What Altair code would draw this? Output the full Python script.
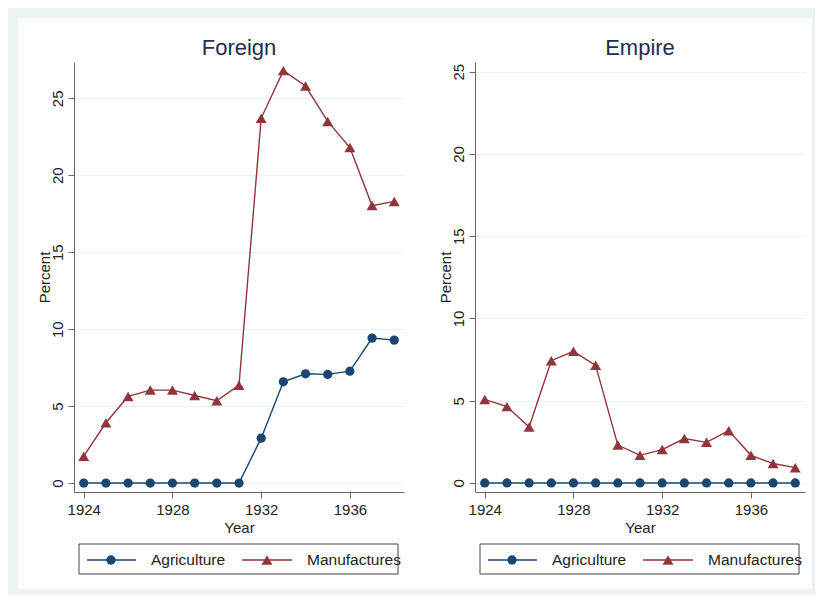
import altair as alt
import pandas as pd

# ---- data ----
years = [1924, 1925, 1926, 1927, 1928, 1929, 1930, 1931, 1932, 1933, 1934, 1935, 1936, 1937, 1938]
foreign_agri = [0, 0, 0, 0, 0, 0, 0, 0, 2.92, 6.58, 7.1, 7.06, 7.27, 9.42, 9.29]
foreign_manu = [1.75, 3.92, 5.63, 6.04, 6.04, 5.69, 5.35, 6.36, 23.7, 26.8, 25.8, 23.5, 21.8, 18.03, 18.3]
empire_agri = [0, 0, 0, 0, 0, 0, 0, 0, 0, 0, 0, 0, 0, 0, 0]
empire_manu = [5.08, 4.64, 3.4, 7.43, 8.0, 7.15, 2.3, 1.68, 2.03, 2.7, 2.47, 3.18, 1.68, 1.18, 0.93]

series_names = ["Agriculture", "Manufactures"]
series_colors = ["#1A476F", "#90353B"]
series_shapes = ["circle", "triangle-up"]
series_sizes = [86, 120]
x_ticks = [1924, 1928, 1932, 1936]
y_ticks = [0, 5, 10, 15, 20, 25]
panel_titles = ["Foreign", "Empire"]

FONT = "Liberation Sans"
BG = "#EAF2F3"
TXT = "#222222"
TITLE_COL = "#1E2D50"

W, H = 330, 430


def panel(title, agri, manu, ydom, frame=False):
    df = pd.DataFrame({
        "Year": years * 2,
        "Percent": agri + manu,
        "Series": [series_names[0]] * len(years) + [series_names[1]] * len(years),
    })
    base = alt.Chart(df)
    xenc = alt.X("Year:Q", title="Year",
                 scale=alt.Scale(domain=[1923.56, 1938.44], nice=False, zero=False),
                 axis=alt.Axis(values=x_ticks, format="d", grid=False, tickSize=6,
                               labelPadding=4, titlePadding=3, labelFlush=False))
    yenc = alt.Y("Percent:Q", title="Percent",
                 scale=alt.Scale(domain=ydom, nice=False, zero=False),
                 axis=alt.Axis(values=y_ticks, grid=True, gridColor=BG, gridWidth=1,
                               tickSize=6, labelAngle=-90, labelAlign="center",
                               labelBaseline="alphabetic", labelPadding=6,
                               titleAngle=-90, titleX=-25, titleY=H / 2,
                               titleAlign="center", titleBaseline="alphabetic"))
    layers = []
    one = alt.Chart(pd.DataFrame({"k": [0]}))

    if frame:
        # light bluish outer graph region (page coords relative to left plot origin)
        for (x1, x2, y1, y2) in [(-66, -56, -54, 533), (-66, 741, -54, -44),
                                 (738, 741, -54, 533), (-66, 741, 527, 533)]:
            layers.append(one.mark_rect(fill=BG, strokeWidth=0).encode(
                x=alt.value(x1), x2=alt.value(x2), y=alt.value(y1), y2=alt.value(y2)))

    for i, name in enumerate(series_names):
        sub = base.transform_filter(alt.datum.Series == name)
        layers.append(sub.mark_line(color=series_colors[i], strokeWidth=1.4).encode(x=xenc, y=yenc))
        layers.append(sub.mark_point(shape=series_shapes[i], size=series_sizes[i], filled=True,
                                     opacity=1, color=series_colors[i]).encode(x=xenc, y=yenc))

    # panel title
    layers.append(one.mark_text(align="center", baseline="alphabetic", font=FONT, fontSize=22,
                                color=TITLE_COL).encode(
        x=alt.value(W / 2), y=alt.value(-7), text=alt.value(title)))

    # legend box
    layers.append(one.mark_rect(fill="white", stroke="#444444", strokeWidth=1).encode(
        x=alt.value(5), x2=alt.value(324), y=alt.value(482), y2=alt.value(512)))
    leg_line_x = [(13, 62, 37, 77), (168, 218, 193, 233)]
    for i, name in enumerate(series_names):
        lx1, lx2, mx, tx = leg_line_x[i]
        layers.append(one.mark_rule(color=series_colors[i], strokeWidth=1.4).encode(
            x=alt.value(lx1), x2=alt.value(lx2), y=alt.value(498)))
        layers.append(one.mark_point(shape=series_shapes[i], size=series_sizes[i], filled=True,
                                     opacity=1, color=series_colors[i]).encode(
            x=alt.value(mx), y=alt.value(498)))
        layers.append(one.mark_text(align="left", baseline="middle", font=FONT, fontSize=15.5,
                                    color=TXT).encode(
            x=alt.value(tx), y=alt.value(498), text=alt.value(name)))

    return alt.layer(*layers).properties(width=W, height=H)


left = panel(panel_titles[0], foreign_agri, foreign_manu, [-0.58, 27.36], frame=True)
right = panel(panel_titles[1], empire_agri, empire_manu, [-0.55, 25.59])

chart = alt.hconcat(left, right, spacing=71, bounds="flush", padding=0, background="white").configure_view(
    stroke=None
).configure_axis(
    labelFont=FONT, titleFont=FONT, labelFontSize=15, titleFontSize=15,
    labelColor=TXT, titleColor=TXT, titleFontWeight="normal",
    domainColor="#666666", tickColor="#666666", domainWidth=1, tickWidth=1,
)

chart.save("out.html", embed_options={"renderer": "svg", "actions": False})
